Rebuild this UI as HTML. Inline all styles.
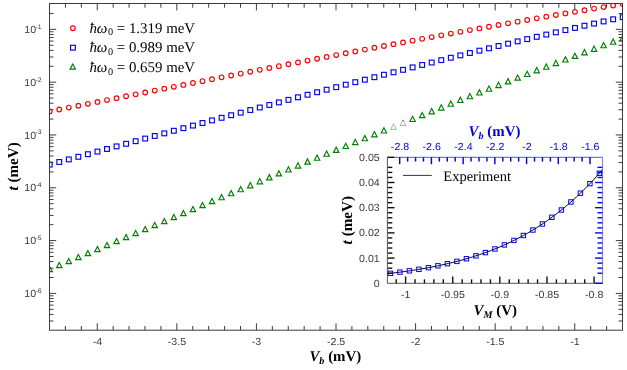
<!DOCTYPE html>
<html><head><meta charset="utf-8"><title>plot</title>
<style>
html,body{margin:0;padding:0;background:#fff;}
body{width:627px;height:370px;position:relative;overflow:hidden;font-family:"Liberation Sans",sans-serif;}
svg{position:absolute;left:0;top:0;}
#txt{will-change:transform;text-rendering:geometricPrecision;}
</style></head><body>
<svg width="627" height="370" viewBox="0 0 627 370" style="position:absolute;left:0;top:0">
<defs><clipPath id="cm"><rect x="49.50" y="3.50" width="573.00" height="326.70"/></clipPath>
<clipPath id="ci"><rect x="387.7" y="157.3" width="214.9" height="125.9"/></clipPath></defs>
<g clip-path="url(#cm)" fill="none" stroke-width="1.15">
<circle cx="49.70" cy="111.38" r="2.35" stroke="#ff0000"/>
<circle cx="59.25" cy="109.50" r="2.35" stroke="#ff0000"/>
<circle cx="68.80" cy="107.61" r="2.35" stroke="#ff0000"/>
<circle cx="78.35" cy="105.72" r="2.35" stroke="#ff0000"/>
<circle cx="87.90" cy="103.83" r="2.35" stroke="#ff0000"/>
<circle cx="97.45" cy="101.94" r="2.35" stroke="#ff0000"/>
<circle cx="107.00" cy="100.05" r="2.35" stroke="#ff0000"/>
<circle cx="116.55" cy="98.16" r="2.35" stroke="#ff0000"/>
<circle cx="126.10" cy="96.26" r="2.35" stroke="#ff0000"/>
<circle cx="135.65" cy="94.37" r="2.35" stroke="#ff0000"/>
<circle cx="145.20" cy="92.48" r="2.35" stroke="#ff0000"/>
<circle cx="154.75" cy="90.59" r="2.35" stroke="#ff0000"/>
<circle cx="164.30" cy="88.69" r="2.35" stroke="#ff0000"/>
<circle cx="173.85" cy="86.80" r="2.35" stroke="#ff0000"/>
<circle cx="183.40" cy="84.91" r="2.35" stroke="#ff0000"/>
<circle cx="192.95" cy="83.02" r="2.35" stroke="#ff0000"/>
<circle cx="202.50" cy="81.14" r="2.35" stroke="#ff0000"/>
<circle cx="212.05" cy="79.25" r="2.35" stroke="#ff0000"/>
<circle cx="221.60" cy="77.37" r="2.35" stroke="#ff0000"/>
<circle cx="231.15" cy="75.49" r="2.35" stroke="#ff0000"/>
<circle cx="240.70" cy="73.62" r="2.35" stroke="#ff0000"/>
<circle cx="250.25" cy="71.74" r="2.35" stroke="#ff0000"/>
<circle cx="259.80" cy="69.87" r="2.35" stroke="#ff0000"/>
<circle cx="269.35" cy="68.01" r="2.35" stroke="#ff0000"/>
<circle cx="278.90" cy="66.14" r="2.35" stroke="#ff0000"/>
<circle cx="288.45" cy="64.28" r="2.35" stroke="#ff0000"/>
<circle cx="298.00" cy="62.43" r="2.35" stroke="#ff0000"/>
<circle cx="307.55" cy="60.58" r="2.35" stroke="#ff0000"/>
<circle cx="317.10" cy="58.74" r="2.35" stroke="#ff0000"/>
<circle cx="326.65" cy="56.90" r="2.35" stroke="#ff0000"/>
<circle cx="336.20" cy="55.06" r="2.35" stroke="#ff0000"/>
<circle cx="345.75" cy="53.24" r="2.35" stroke="#ff0000"/>
<circle cx="355.30" cy="51.41" r="2.35" stroke="#ff0000"/>
<circle cx="364.85" cy="49.60" r="2.35" stroke="#ff0000"/>
<circle cx="374.40" cy="47.79" r="2.35" stroke="#ff0000"/>
<circle cx="383.95" cy="45.99" r="2.35" stroke="#ff0000"/>
<circle cx="393.50" cy="44.19" r="2.35" stroke="#ff0000"/>
<circle cx="403.05" cy="42.41" r="2.35" stroke="#ff0000"/>
<circle cx="412.60" cy="40.63" r="2.35" stroke="#ff0000"/>
<circle cx="422.15" cy="38.85" r="2.35" stroke="#ff0000"/>
<circle cx="431.70" cy="37.09" r="2.35" stroke="#ff0000"/>
<circle cx="441.25" cy="35.34" r="2.35" stroke="#ff0000"/>
<circle cx="450.80" cy="33.59" r="2.35" stroke="#ff0000"/>
<circle cx="460.35" cy="31.85" r="2.35" stroke="#ff0000"/>
<circle cx="469.90" cy="30.12" r="2.35" stroke="#ff0000"/>
<circle cx="479.45" cy="28.41" r="2.35" stroke="#ff0000"/>
<circle cx="489.00" cy="26.70" r="2.35" stroke="#ff0000"/>
<circle cx="498.55" cy="25.00" r="2.35" stroke="#ff0000"/>
<circle cx="508.10" cy="23.31" r="2.35" stroke="#ff0000"/>
<circle cx="517.65" cy="21.63" r="2.35" stroke="#ff0000"/>
<circle cx="527.20" cy="19.96" r="2.35" stroke="#ff0000"/>
<circle cx="536.75" cy="18.31" r="2.35" stroke="#ff0000"/>
<circle cx="546.30" cy="16.66" r="2.35" stroke="#ff0000"/>
<circle cx="555.85" cy="15.03" r="2.35" stroke="#ff0000"/>
<circle cx="565.40" cy="13.41" r="2.35" stroke="#ff0000"/>
<circle cx="574.95" cy="11.80" r="2.35" stroke="#ff0000"/>
<circle cx="584.50" cy="10.21" r="2.35" stroke="#ff0000"/>
<circle cx="594.05" cy="8.62" r="2.35" stroke="#ff0000"/>
<circle cx="603.60" cy="7.05" r="2.35" stroke="#ff0000"/>
<circle cx="613.15" cy="5.50" r="2.35" stroke="#ff0000"/>
<circle cx="622.70" cy="3.95" r="2.35" stroke="#ff0000"/>
<rect x="47.30" y="162.19" width="4.80" height="4.80" stroke="#0000ff"/>
<rect x="56.85" y="159.59" width="4.80" height="4.80" stroke="#0000ff"/>
<rect x="66.40" y="157.00" width="4.80" height="4.80" stroke="#0000ff"/>
<rect x="75.95" y="154.40" width="4.80" height="4.80" stroke="#0000ff"/>
<rect x="85.50" y="151.80" width="4.80" height="4.80" stroke="#0000ff"/>
<rect x="95.05" y="149.19" width="4.80" height="4.80" stroke="#0000ff"/>
<rect x="104.60" y="146.59" width="4.80" height="4.80" stroke="#0000ff"/>
<rect x="114.15" y="143.99" width="4.80" height="4.80" stroke="#0000ff"/>
<rect x="123.70" y="141.38" width="4.80" height="4.80" stroke="#0000ff"/>
<rect x="133.25" y="138.78" width="4.80" height="4.80" stroke="#0000ff"/>
<rect x="142.80" y="136.17" width="4.80" height="4.80" stroke="#0000ff"/>
<rect x="152.35" y="133.57" width="4.80" height="4.80" stroke="#0000ff"/>
<rect x="161.90" y="130.97" width="4.80" height="4.80" stroke="#0000ff"/>
<rect x="171.45" y="128.37" width="4.80" height="4.80" stroke="#0000ff"/>
<rect x="181.00" y="125.77" width="4.80" height="4.80" stroke="#0000ff"/>
<rect x="190.55" y="123.18" width="4.80" height="4.80" stroke="#0000ff"/>
<rect x="200.10" y="120.59" width="4.80" height="4.80" stroke="#0000ff"/>
<rect x="209.65" y="118.00" width="4.80" height="4.80" stroke="#0000ff"/>
<rect x="219.20" y="115.41" width="4.80" height="4.80" stroke="#0000ff"/>
<rect x="228.75" y="112.83" width="4.80" height="4.80" stroke="#0000ff"/>
<rect x="238.30" y="110.25" width="4.80" height="4.80" stroke="#0000ff"/>
<rect x="247.85" y="107.68" width="4.80" height="4.80" stroke="#0000ff"/>
<rect x="257.40" y="105.11" width="4.80" height="4.80" stroke="#0000ff"/>
<rect x="266.95" y="102.55" width="4.80" height="4.80" stroke="#0000ff"/>
<rect x="276.50" y="99.99" width="4.80" height="4.80" stroke="#0000ff"/>
<rect x="286.05" y="97.44" width="4.80" height="4.80" stroke="#0000ff"/>
<rect x="295.60" y="94.90" width="4.80" height="4.80" stroke="#0000ff"/>
<rect x="305.15" y="92.36" width="4.80" height="4.80" stroke="#0000ff"/>
<rect x="314.70" y="89.83" width="4.80" height="4.80" stroke="#0000ff"/>
<rect x="324.25" y="87.31" width="4.80" height="4.80" stroke="#0000ff"/>
<rect x="333.80" y="84.79" width="4.80" height="4.80" stroke="#0000ff"/>
<rect x="343.35" y="82.28" width="4.80" height="4.80" stroke="#0000ff"/>
<rect x="352.90" y="79.78" width="4.80" height="4.80" stroke="#0000ff"/>
<rect x="362.45" y="77.29" width="4.80" height="4.80" stroke="#0000ff"/>
<rect x="372.00" y="74.81" width="4.80" height="4.80" stroke="#0000ff"/>
<rect x="381.55" y="72.34" width="4.80" height="4.80" stroke="#0000ff"/>
<rect x="391.10" y="69.88" width="4.80" height="4.80" stroke="#0000ff"/>
<rect x="400.65" y="67.43" width="4.80" height="4.80" stroke="#0000ff"/>
<rect x="410.20" y="64.99" width="4.80" height="4.80" stroke="#0000ff"/>
<rect x="419.75" y="62.56" width="4.80" height="4.80" stroke="#0000ff"/>
<rect x="429.30" y="60.15" width="4.80" height="4.80" stroke="#0000ff"/>
<rect x="438.85" y="57.74" width="4.80" height="4.80" stroke="#0000ff"/>
<rect x="448.40" y="55.35" width="4.80" height="4.80" stroke="#0000ff"/>
<rect x="457.95" y="52.97" width="4.80" height="4.80" stroke="#0000ff"/>
<rect x="467.50" y="50.60" width="4.80" height="4.80" stroke="#0000ff"/>
<rect x="477.05" y="48.25" width="4.80" height="4.80" stroke="#0000ff"/>
<rect x="486.60" y="45.91" width="4.80" height="4.80" stroke="#0000ff"/>
<rect x="496.15" y="43.58" width="4.80" height="4.80" stroke="#0000ff"/>
<rect x="505.70" y="41.27" width="4.80" height="4.80" stroke="#0000ff"/>
<rect x="515.25" y="38.97" width="4.80" height="4.80" stroke="#0000ff"/>
<rect x="524.80" y="36.69" width="4.80" height="4.80" stroke="#0000ff"/>
<rect x="534.35" y="34.43" width="4.80" height="4.80" stroke="#0000ff"/>
<rect x="543.90" y="32.18" width="4.80" height="4.80" stroke="#0000ff"/>
<rect x="553.45" y="29.94" width="4.80" height="4.80" stroke="#0000ff"/>
<rect x="563.00" y="27.72" width="4.80" height="4.80" stroke="#0000ff"/>
<rect x="572.55" y="25.52" width="4.80" height="4.80" stroke="#0000ff"/>
<rect x="582.10" y="23.34" width="4.80" height="4.80" stroke="#0000ff"/>
<rect x="591.65" y="21.18" width="4.80" height="4.80" stroke="#0000ff"/>
<rect x="601.20" y="19.03" width="4.80" height="4.80" stroke="#0000ff"/>
<rect x="610.75" y="16.90" width="4.80" height="4.80" stroke="#0000ff"/>
<rect x="620.30" y="14.79" width="4.80" height="4.80" stroke="#0000ff"/>
<path d="M49.70 266.42L52.40 271.67L47.00 271.67Z" stroke="#008000"/>
<path d="M59.25 262.42L61.95 267.67L56.55 267.67Z" stroke="#008000"/>
<path d="M68.80 258.42L71.50 263.67L66.10 263.67Z" stroke="#008000"/>
<path d="M78.35 254.42L81.05 259.67L75.65 259.67Z" stroke="#008000"/>
<path d="M87.90 250.42L90.60 255.67L85.20 255.67Z" stroke="#008000"/>
<path d="M97.45 246.42L100.15 251.67L94.75 251.67Z" stroke="#008000"/>
<path d="M107.00 242.41L109.70 247.66L104.30 247.66Z" stroke="#008000"/>
<path d="M116.55 238.41L119.25 243.66L113.85 243.66Z" stroke="#008000"/>
<path d="M126.10 234.40L128.80 239.65L123.40 239.65Z" stroke="#008000"/>
<path d="M135.65 230.40L138.35 235.65L132.95 235.65Z" stroke="#008000"/>
<path d="M145.20 226.40L147.90 231.65L142.50 231.65Z" stroke="#008000"/>
<path d="M154.75 222.40L157.45 227.65L152.05 227.65Z" stroke="#008000"/>
<path d="M164.30 218.40L167.00 223.65L161.60 223.65Z" stroke="#008000"/>
<path d="M173.85 214.40L176.55 219.65L171.15 219.65Z" stroke="#008000"/>
<path d="M183.40 210.41L186.10 215.66L180.70 215.66Z" stroke="#008000"/>
<path d="M192.95 206.42L195.65 211.67L190.25 211.67Z" stroke="#008000"/>
<path d="M202.50 202.43L205.20 207.68L199.80 207.68Z" stroke="#008000"/>
<path d="M212.05 198.44L214.75 203.69L209.35 203.69Z" stroke="#008000"/>
<path d="M221.60 194.46L224.30 199.71L218.90 199.71Z" stroke="#008000"/>
<path d="M231.15 190.49L233.85 195.74L228.45 195.74Z" stroke="#008000"/>
<path d="M240.70 186.51L243.40 191.76L238.00 191.76Z" stroke="#008000"/>
<path d="M250.25 182.55L252.95 187.80L247.55 187.80Z" stroke="#008000"/>
<path d="M259.80 178.59L262.50 183.84L257.10 183.84Z" stroke="#008000"/>
<path d="M269.35 174.63L272.05 179.88L266.65 179.88Z" stroke="#008000"/>
<path d="M278.90 170.68L281.60 175.93L276.20 175.93Z" stroke="#008000"/>
<path d="M288.45 166.74L291.15 171.99L285.75 171.99Z" stroke="#008000"/>
<path d="M298.00 162.80L300.70 168.05L295.30 168.05Z" stroke="#008000"/>
<path d="M307.55 158.87L310.25 164.12L304.85 164.12Z" stroke="#008000"/>
<path d="M317.10 154.95L319.80 160.20L314.40 160.20Z" stroke="#008000"/>
<path d="M326.65 151.03L329.35 156.28L323.95 156.28Z" stroke="#008000"/>
<path d="M336.20 147.13L338.90 152.38L333.50 152.38Z" stroke="#008000"/>
<path d="M345.75 143.23L348.45 148.48L343.05 148.48Z" stroke="#008000"/>
<path d="M355.30 139.34L358.00 144.59L352.60 144.59Z" stroke="#008000"/>
<path d="M364.85 135.46L367.55 140.71L362.15 140.71Z" stroke="#008000"/>
<path d="M374.40 131.59L377.10 136.84L371.70 136.84Z" stroke="#008000"/>
<path d="M383.95 127.73L386.65 132.98L381.25 132.98Z" stroke="#008000"/>
<path d="M393.50 123.81L396.35 129.36L390.65 129.36Z" stroke="#2f942f" stroke-width="0.55"/>
<path d="M403.05 119.97L405.90 125.52L400.20 125.52Z" stroke="#2f942f" stroke-width="0.55"/>
<path d="M403.05 119.47L403.80 120.87L402.30 120.87Z" stroke="none" fill="#0a800a"/>
<path d="M412.60 116.21L415.30 121.46L409.90 121.46Z" stroke="#008000"/>
<path d="M422.15 112.40L424.85 117.65L419.45 117.65Z" stroke="#008000"/>
<path d="M431.70 108.59L434.40 113.84L429.00 113.84Z" stroke="#008000"/>
<path d="M441.25 104.80L443.95 110.05L438.55 110.05Z" stroke="#008000"/>
<path d="M450.80 101.02L453.50 106.27L448.10 106.27Z" stroke="#008000"/>
<path d="M460.35 97.25L463.05 102.50L457.65 102.50Z" stroke="#008000"/>
<path d="M469.90 93.50L472.60 98.75L467.20 98.75Z" stroke="#008000"/>
<path d="M479.45 89.75L482.15 95.00L476.75 95.00Z" stroke="#008000"/>
<path d="M489.00 86.03L491.70 91.28L486.30 91.28Z" stroke="#008000"/>
<path d="M498.55 82.32L501.25 87.57L495.85 87.57Z" stroke="#008000"/>
<path d="M508.10 78.62L510.80 83.87L505.40 83.87Z" stroke="#008000"/>
<path d="M517.65 74.93L520.35 80.18L514.95 80.18Z" stroke="#008000"/>
<path d="M527.20 71.27L529.90 76.52L524.50 76.52Z" stroke="#008000"/>
<path d="M536.75 67.61L539.45 72.86L534.05 72.86Z" stroke="#008000"/>
<path d="M546.30 63.98L549.00 69.23L543.60 69.23Z" stroke="#008000"/>
<path d="M555.85 60.36L558.55 65.61L553.15 65.61Z" stroke="#008000"/>
<path d="M565.40 56.76L568.10 62.01L562.70 62.01Z" stroke="#008000"/>
<path d="M574.95 53.17L577.65 58.42L572.25 58.42Z" stroke="#008000"/>
<path d="M584.50 49.60L587.20 54.85L581.80 54.85Z" stroke="#008000"/>
<path d="M594.05 46.05L596.75 51.30L591.35 51.30Z" stroke="#008000"/>
<path d="M603.60 42.52L606.30 47.77L600.90 47.77Z" stroke="#008000"/>
<path d="M613.15 39.01L615.85 44.26L610.45 44.26Z" stroke="#008000"/>
<path d="M622.70 35.51L625.40 40.76L620.00 40.76Z" stroke="#008000"/>
</g>
<g stroke="#3c3c3c" stroke-width="1" fill="none">
<rect x="49.50" y="3.50" width="573.00" height="326.70"/>
<path d="M49.50 330.20v-4.20M49.50 3.50v4.20"/>
<path d="M65.42 330.20v-4.20M65.42 3.50v4.20"/>
<path d="M81.33 330.20v-4.20M81.33 3.50v4.20"/>
<path d="M97.25 330.20v-6.90M97.25 3.50v6.90"/>
<path d="M113.17 330.20v-4.20M113.17 3.50v4.20"/>
<path d="M129.08 330.20v-4.20M129.08 3.50v4.20"/>
<path d="M145.00 330.20v-4.20M145.00 3.50v4.20"/>
<path d="M160.92 330.20v-4.20M160.92 3.50v4.20"/>
<path d="M176.83 330.20v-6.90M176.83 3.50v6.90"/>
<path d="M192.75 330.20v-4.20M192.75 3.50v4.20"/>
<path d="M208.67 330.20v-4.20M208.67 3.50v4.20"/>
<path d="M224.58 330.20v-4.20M224.58 3.50v4.20"/>
<path d="M240.50 330.20v-4.20M240.50 3.50v4.20"/>
<path d="M256.42 330.20v-6.90M256.42 3.50v6.90"/>
<path d="M272.33 330.20v-4.20M272.33 3.50v4.20"/>
<path d="M288.25 330.20v-4.20M288.25 3.50v4.20"/>
<path d="M304.17 330.20v-4.20M304.17 3.50v4.20"/>
<path d="M320.08 330.20v-4.20M320.08 3.50v4.20"/>
<path d="M336.00 330.20v-6.90M336.00 3.50v6.90"/>
<path d="M351.92 330.20v-4.20M351.92 3.50v4.20"/>
<path d="M367.83 330.20v-4.20M367.83 3.50v4.20"/>
<path d="M383.75 330.20v-4.20M383.75 3.50v4.20"/>
<path d="M399.67 330.20v-4.20M399.67 3.50v4.20"/>
<path d="M415.58 330.20v-6.90M415.58 3.50v6.90"/>
<path d="M431.50 330.20v-4.20M431.50 3.50v4.20"/>
<path d="M447.42 330.20v-4.20M447.42 3.50v4.20"/>
<path d="M463.33 330.20v-4.20M463.33 3.50v4.20"/>
<path d="M479.25 330.20v-4.20M479.25 3.50v4.20"/>
<path d="M495.17 330.20v-6.90M495.17 3.50v6.90"/>
<path d="M511.08 330.20v-4.20M511.08 3.50v4.20"/>
<path d="M527.00 330.20v-4.20M527.00 3.50v4.20"/>
<path d="M542.92 330.20v-4.20M542.92 3.50v4.20"/>
<path d="M558.83 330.20v-4.20M558.83 3.50v4.20"/>
<path d="M574.75 330.20v-6.90M574.75 3.50v6.90"/>
<path d="M590.67 330.20v-4.20M590.67 3.50v4.20"/>
<path d="M606.58 330.20v-4.20M606.58 3.50v4.20"/>
<path d="M622.50 330.20v-4.20M622.50 3.50v4.20"/>
<path d="M49.50 321.01h4.00M622.50 321.01h-4.00"/>
<path d="M49.50 314.42h4.00M622.50 314.42h-4.00"/>
<path d="M49.50 309.30h4.00M622.50 309.30h-4.00"/>
<path d="M49.50 305.12h4.00M622.50 305.12h-4.00"/>
<path d="M49.50 301.58h4.00M622.50 301.58h-4.00"/>
<path d="M49.50 298.52h4.00M622.50 298.52h-4.00"/>
<path d="M49.50 295.82h4.00M622.50 295.82h-4.00"/>
<path d="M49.50 293.40h6.70M622.50 293.40h-6.70"/>
<path d="M49.50 277.50h4.00M622.50 277.50h-4.00"/>
<path d="M49.50 268.20h4.00M622.50 268.20h-4.00"/>
<path d="M49.50 261.61h4.00M622.50 261.61h-4.00"/>
<path d="M49.50 256.49h4.00M622.50 256.49h-4.00"/>
<path d="M49.50 252.31h4.00M622.50 252.31h-4.00"/>
<path d="M49.50 248.77h4.00M622.50 248.77h-4.00"/>
<path d="M49.50 245.71h4.00M622.50 245.71h-4.00"/>
<path d="M49.50 243.01h4.00M622.50 243.01h-4.00"/>
<path d="M49.50 240.59h6.70M622.50 240.59h-6.70"/>
<path d="M49.50 224.69h4.00M622.50 224.69h-4.00"/>
<path d="M49.50 215.39h4.00M622.50 215.39h-4.00"/>
<path d="M49.50 208.80h4.00M622.50 208.80h-4.00"/>
<path d="M49.50 203.68h4.00M622.50 203.68h-4.00"/>
<path d="M49.50 199.50h4.00M622.50 199.50h-4.00"/>
<path d="M49.50 195.96h4.00M622.50 195.96h-4.00"/>
<path d="M49.50 192.90h4.00M622.50 192.90h-4.00"/>
<path d="M49.50 190.20h4.00M622.50 190.20h-4.00"/>
<path d="M49.50 187.78h6.70M622.50 187.78h-6.70"/>
<path d="M49.50 171.88h4.00M622.50 171.88h-4.00"/>
<path d="M49.50 162.58h4.00M622.50 162.58h-4.00"/>
<path d="M49.50 155.99h4.00M622.50 155.99h-4.00"/>
<path d="M49.50 150.87h4.00M622.50 150.87h-4.00"/>
<path d="M49.50 146.69h4.00M622.50 146.69h-4.00"/>
<path d="M49.50 143.15h4.00M622.50 143.15h-4.00"/>
<path d="M49.50 140.09h4.00M622.50 140.09h-4.00"/>
<path d="M49.50 137.39h4.00M622.50 137.39h-4.00"/>
<path d="M49.50 134.97h6.70M622.50 134.97h-6.70"/>
<path d="M49.50 119.07h4.00M622.50 119.07h-4.00"/>
<path d="M49.50 109.77h4.00M622.50 109.77h-4.00"/>
<path d="M49.50 103.18h4.00M622.50 103.18h-4.00"/>
<path d="M49.50 98.06h4.00M622.50 98.06h-4.00"/>
<path d="M49.50 93.88h4.00M622.50 93.88h-4.00"/>
<path d="M49.50 90.34h4.00M622.50 90.34h-4.00"/>
<path d="M49.50 87.28h4.00M622.50 87.28h-4.00"/>
<path d="M49.50 84.58h4.00M622.50 84.58h-4.00"/>
<path d="M49.50 82.16h6.70M622.50 82.16h-6.70"/>
<path d="M49.50 66.26h4.00M622.50 66.26h-4.00"/>
<path d="M49.50 56.96h4.00M622.50 56.96h-4.00"/>
<path d="M49.50 50.37h4.00M622.50 50.37h-4.00"/>
<path d="M49.50 45.25h4.00M622.50 45.25h-4.00"/>
<path d="M49.50 41.07h4.00M622.50 41.07h-4.00"/>
<path d="M49.50 37.53h4.00M622.50 37.53h-4.00"/>
<path d="M49.50 34.47h4.00M622.50 34.47h-4.00"/>
<path d="M49.50 31.77h4.00M622.50 31.77h-4.00"/>
<path d="M49.50 29.35h6.70M622.50 29.35h-6.70"/>
<path d="M49.50 13.45h4.00M622.50 13.45h-4.00"/>
</g>
<rect x="352" y="150" width="256" height="164" fill="#fff" opacity="0"/>
<g clip-path="url(#ci)" fill="none">
<path d="M386.60 273.75L388.81 273.50L391.01 273.25L393.22 272.99L395.43 272.71L397.64 272.44L399.84 272.15L402.05 271.86L404.26 271.56L406.46 271.25L408.67 270.93L410.88 270.60L413.08 270.27L415.29 269.92L417.50 269.57L419.71 269.20L421.91 268.83L424.12 268.45L426.33 268.05L428.53 267.65L430.74 267.23L432.95 266.81L435.16 266.37L437.36 265.92L439.57 265.46L441.78 264.98L443.98 264.49L446.19 264.00L448.40 263.48L450.61 262.96L452.81 262.42L455.02 261.86L457.23 261.29L459.43 260.71L461.64 260.11L463.85 259.49L466.05 258.86L468.26 258.21L470.47 257.55L472.68 256.87L474.88 256.17L477.09 255.45L479.30 254.72L481.50 253.96L483.71 253.19L485.92 252.40L488.13 251.58L490.33 250.75L492.54 249.90L494.75 249.02L496.95 248.12L499.16 247.20L501.37 246.26L503.57 245.29L505.78 244.30L507.99 243.29L510.20 242.25L512.40 241.19L514.61 240.10L516.82 238.98L519.02 237.84L521.23 236.67L523.44 235.47L525.65 234.25L527.85 232.99L530.06 231.71L532.27 230.39L534.47 229.05L536.68 227.67L538.89 226.27L541.09 224.83L543.30 223.36L545.51 221.85L547.72 220.31L549.92 218.74L552.13 217.13L554.34 215.49L556.54 213.81L558.75 212.09L560.96 210.34L563.17 208.55L565.37 206.72L567.58 204.85L569.79 202.94L571.99 200.99L574.20 199.00L576.41 196.97L578.62 194.90L580.82 192.79L583.03 190.63L585.24 188.44L587.44 186.19L589.65 183.91L591.86 181.57L594.06 179.20L596.27 176.78L598.48 174.31L600.69 171.79L602.89 169.23L605.10 166.63" stroke="#000" stroke-width="1"/>
</g>
<g fill="none" stroke="#0000ff" stroke-width="1.0">
<rect x="388.20" y="271.12" width="4.40" height="4.40"/>
<rect x="397.70" y="269.94" width="4.40" height="4.40"/>
<rect x="407.20" y="268.62" width="4.40" height="4.40"/>
<rect x="416.70" y="267.14" width="4.40" height="4.40"/>
<rect x="426.20" y="265.47" width="4.40" height="4.40"/>
<rect x="435.70" y="263.61" width="4.40" height="4.40"/>
<rect x="445.20" y="261.52" width="4.40" height="4.40"/>
<rect x="454.70" y="259.18" width="4.40" height="4.40"/>
<rect x="464.20" y="256.56" width="4.40" height="4.40"/>
<rect x="473.70" y="253.64" width="4.40" height="4.40"/>
<rect x="483.20" y="250.38" width="4.40" height="4.40"/>
<rect x="492.70" y="246.76" width="4.40" height="4.40"/>
<rect x="502.20" y="242.73" width="4.40" height="4.40"/>
<rect x="511.70" y="238.25" width="4.40" height="4.40"/>
<rect x="521.20" y="233.29" width="4.40" height="4.40"/>
<rect x="530.70" y="227.81" width="4.40" height="4.40"/>
<rect x="540.20" y="221.76" width="4.40" height="4.40"/>
<rect x="549.70" y="215.10" width="4.40" height="4.40"/>
<rect x="559.20" y="207.78" width="4.40" height="4.40"/>
<rect x="568.70" y="199.76" width="4.40" height="4.40"/>
<rect x="578.20" y="191.00" width="4.40" height="4.40"/>
<rect x="587.70" y="181.44" width="4.40" height="4.40"/>
<rect x="597.20" y="171.07" width="4.40" height="4.40"/>
</g>
<path d="M387.40 156.60V283.30H594.10" stroke="#3a3a3a" stroke-width="0.85" fill="none"/>
<path d="M594.10 283.30H602.90" stroke="#2020e8" stroke-width="0.9" fill="none"/>
<g stroke="#101010" stroke-width="1.4" fill="none">
<path d="M387.70 273.22h4.60"/>
<path d="M387.70 268.18h4.60"/>
<path d="M387.70 263.14h4.60"/>
<path d="M387.70 258.10h6.80"/>
<path d="M387.70 253.06h4.60"/>
<path d="M387.70 248.02h4.60"/>
<path d="M387.70 242.98h4.60"/>
<path d="M387.70 237.94h4.60"/>
<path d="M387.70 232.90h6.80"/>
<path d="M387.70 227.86h4.60"/>
<path d="M387.70 222.82h4.60"/>
<path d="M387.70 217.78h4.60"/>
<path d="M387.70 212.74h4.60"/>
<path d="M387.70 207.70h6.80"/>
<path d="M387.70 202.66h4.60"/>
<path d="M387.70 197.62h4.60"/>
<path d="M387.70 192.58h4.60"/>
<path d="M387.70 187.54h4.60"/>
<path d="M387.70 182.50h6.80"/>
<path d="M387.70 177.46h4.60"/>
<path d="M387.70 172.42h4.60"/>
<path d="M387.70 167.38h4.60"/>
<path d="M387.70 157.30h6.80"/>
<path d="M396.18 283.30v-4.00"/>
<path d="M405.60 283.30v-6.80"/>
<path d="M415.03 283.30v-4.00"/>
<path d="M424.45 283.30v-4.00"/>
<path d="M433.88 283.30v-4.00"/>
<path d="M443.30 283.30v-4.00"/>
<path d="M452.73 283.30v-6.80"/>
<path d="M462.15 283.30v-4.00"/>
<path d="M471.57 283.30v-4.00"/>
<path d="M481.00 283.30v-4.00"/>
<path d="M490.43 283.30v-4.00"/>
<path d="M499.85 283.30v-6.80"/>
<path d="M509.27 283.30v-4.00"/>
<path d="M518.70 283.30v-4.00"/>
<path d="M528.12 283.30v-4.00"/>
<path d="M537.55 283.30v-4.00"/>
<path d="M546.98 283.30v-6.80"/>
<path d="M556.40 283.30v-4.00"/>
<path d="M565.83 283.30v-4.00"/>
<path d="M575.25 283.30v-4.00"/>
<path d="M584.67 283.30v-4.00"/>
<path d="M594.10 283.30v-6.80"/>
</g>
<g stroke="#0000e6" stroke-width="1.25" fill="none">
<path d="M394.70 157.30H602.50" stroke="#2828e8" stroke-width="0.8"/>
<path d="M399.70 157.30v6.90" stroke-width="1.45"/>
<path d="M407.63 157.30v4.30" stroke-width="1.45"/>
<path d="M415.56 157.30v4.30" stroke-width="1.45"/>
<path d="M423.49 157.30v4.30" stroke-width="1.45"/>
<path d="M431.42 157.30v6.90" stroke-width="1.45"/>
<path d="M439.35 157.30v4.30" stroke-width="1.45"/>
<path d="M447.28 157.30v4.30" stroke-width="1.45"/>
<path d="M455.21 157.30v4.30" stroke-width="1.45"/>
<path d="M463.14 157.30v6.90" stroke-width="1.45"/>
<path d="M471.07 157.30v4.30" stroke-width="1.45"/>
<path d="M479.00 157.30v4.30" stroke-width="1.45"/>
<path d="M486.93 157.30v4.30" stroke-width="1.45"/>
<path d="M494.86 157.30v6.90" stroke-width="1.45"/>
<path d="M502.79 157.30v4.30" stroke-width="1.45"/>
<path d="M510.72 157.30v4.30" stroke-width="1.45"/>
<path d="M518.65 157.30v4.30" stroke-width="1.45"/>
<path d="M526.58 157.30v6.90" stroke-width="1.45"/>
<path d="M534.51 157.30v4.30" stroke-width="1.45"/>
<path d="M542.44 157.30v4.30" stroke-width="1.45"/>
<path d="M550.37 157.30v4.30" stroke-width="1.45"/>
<path d="M558.30 157.30v6.90" stroke-width="1.45"/>
<path d="M566.23 157.30v4.30" stroke-width="1.45"/>
<path d="M574.16 157.30v4.30" stroke-width="1.45"/>
<path d="M582.09 157.30v4.30" stroke-width="1.45"/>
<path d="M590.02 157.30v6.90" stroke-width="1.45"/>
<path d="M602.50 283.30h-7.40" stroke-width="1.4"/>
<path d="M602.50 273.22h-5.00" stroke-width="1.4"/>
<path d="M602.50 268.18h-5.00" stroke-width="1.4"/>
<path d="M602.50 263.14h-5.00" stroke-width="1.4"/>
<path d="M602.50 258.10h-7.40" stroke-width="1.4"/>
<path d="M602.50 253.06h-5.00" stroke-width="1.4"/>
<path d="M602.50 248.02h-5.00" stroke-width="1.4"/>
<path d="M602.50 242.98h-5.00" stroke-width="1.4"/>
<path d="M602.50 237.94h-5.00" stroke-width="1.4"/>
<path d="M602.50 232.90h-7.40" stroke-width="1.4"/>
<path d="M602.50 227.86h-5.00" stroke-width="1.4"/>
<path d="M602.50 222.82h-5.00" stroke-width="1.4"/>
<path d="M602.50 217.78h-5.00" stroke-width="1.4"/>
<path d="M602.50 212.74h-5.00" stroke-width="1.4"/>
<path d="M602.50 207.70h-7.40" stroke-width="1.4"/>
<path d="M602.50 202.66h-5.00" stroke-width="1.4"/>
<path d="M602.50 197.62h-5.00" stroke-width="1.4"/>
<path d="M602.50 192.58h-5.00" stroke-width="1.4"/>
<path d="M602.50 187.54h-5.00" stroke-width="1.4"/>
<path d="M602.50 182.50h-7.40" stroke-width="1.4"/>
<path d="M602.50 177.46h-5.00" stroke-width="1.4"/>
<path d="M602.50 172.42h-5.00" stroke-width="1.4"/>
<path d="M602.50 167.38h-5.00" stroke-width="1.4"/>
</g>
<path d="M602.6 157.3V283.3" stroke="#4040e8" stroke-width="0.7" fill="none"/>
<path d="M403 175.4H431.8" stroke="#000" stroke-width="0.8"/>
</svg>
<svg id="txt" width="627" height="370" viewBox="0 0 627 370">
<g font-family="Liberation Sans, sans-serif" font-size="10.3" fill="#383838">
<text transform="translate(97.35 345.00) matrix(1.03 0.0004 0 1 0 0)" text-anchor="middle">-4</text>
<text transform="translate(176.93 345.00) matrix(1.03 0.0004 0 1 0 0)" text-anchor="middle">-3.5</text>
<text transform="translate(256.52 345.00) matrix(1.03 0.0004 0 1 0 0)" text-anchor="middle">-3</text>
<text transform="translate(336.10 345.00) matrix(1.03 0.0004 0 1 0 0)" text-anchor="middle">-2.5</text>
<text transform="translate(415.68 345.00) matrix(1.03 0.0004 0 1 0 0)" text-anchor="middle">-2</text>
<text transform="translate(495.27 345.00) matrix(1.03 0.0004 0 1 0 0)" text-anchor="middle">-1.5</text>
<text transform="translate(574.85 345.00) matrix(1.03 0.0004 0 1 0 0)" text-anchor="middle">-1</text>
<text transform="translate(41.70 297.00) matrix(1.03 0.0004 0 1 0 0)" text-anchor="end">10<tspan font-size="6.7" dy="-4.1" dx="-0.5">-6</tspan></text>
<text transform="translate(41.70 244.19) matrix(1.03 0.0004 0 1 0 0)" text-anchor="end">10<tspan font-size="6.7" dy="-4.1" dx="-0.5">-5</tspan></text>
<text transform="translate(41.70 191.38) matrix(1.03 0.0004 0 1 0 0)" text-anchor="end">10<tspan font-size="6.7" dy="-4.1" dx="-0.5">-4</tspan></text>
<text transform="translate(41.70 138.57) matrix(1.03 0.0004 0 1 0 0)" text-anchor="end">10<tspan font-size="6.7" dy="-4.1" dx="-0.5">-3</tspan></text>
<text transform="translate(41.70 85.76) matrix(1.03 0.0004 0 1 0 0)" text-anchor="end">10<tspan font-size="6.7" dy="-4.1" dx="-0.5">-2</tspan></text>
<text transform="translate(41.70 32.95) matrix(1.03 0.0004 0 1 0 0)" text-anchor="end">10<tspan font-size="6.7" dy="-4.1" dx="-0.5">-1</tspan></text>
<text transform="translate(379.70 286.85) matrix(1.03 0.0004 0 1 0 0)" text-anchor="end">0</text>
<text transform="translate(379.70 261.65) matrix(1.03 0.0004 0 1 0 0)" text-anchor="end">0.01</text>
<text transform="translate(379.70 236.45) matrix(1.03 0.0004 0 1 0 0)" text-anchor="end">0.02</text>
<text transform="translate(379.70 211.25) matrix(1.03 0.0004 0 1 0 0)" text-anchor="end">0.03</text>
<text transform="translate(379.70 186.05) matrix(1.03 0.0004 0 1 0 0)" text-anchor="end">0.04</text>
<text transform="translate(379.70 160.85) matrix(1.03 0.0004 0 1 0 0)" text-anchor="end">0.05</text>
<text transform="translate(405.70 298.00) matrix(1.03 0.0004 0 1 0 0)" text-anchor="middle">-1</text>
<text transform="translate(452.83 298.00) matrix(1.03 0.0004 0 1 0 0)" text-anchor="middle">-0.95</text>
<text transform="translate(499.95 298.00) matrix(1.03 0.0004 0 1 0 0)" text-anchor="middle">-0.9</text>
<text transform="translate(547.08 298.00) matrix(1.03 0.0004 0 1 0 0)" text-anchor="middle">-0.85</text>
<text transform="translate(594.20 298.00) matrix(1.03 0.0004 0 1 0 0)" text-anchor="middle">-0.8</text>
<text transform="translate(400.00 150.00) matrix(1.03 0.0004 0 1 0 0)" text-anchor="middle" fill="#0000e6">-2.8</text>
<text transform="translate(431.72 150.00) matrix(1.03 0.0004 0 1 0 0)" text-anchor="middle" fill="#0000e6">-2.6</text>
<text transform="translate(463.44 150.00) matrix(1.03 0.0004 0 1 0 0)" text-anchor="middle" fill="#0000e6">-2.4</text>
<text transform="translate(495.16 150.00) matrix(1.03 0.0004 0 1 0 0)" text-anchor="middle" fill="#0000e6">-2.2</text>
<text transform="translate(526.88 150.00) matrix(1.03 0.0004 0 1 0 0)" text-anchor="middle" fill="#0000e6">-2</text>
<text transform="translate(558.60 150.00) matrix(1.03 0.0004 0 1 0 0)" text-anchor="middle" fill="#0000e6">-1.8</text>
<text transform="translate(590.32 150.00) matrix(1.03 0.0004 0 1 0 0)" text-anchor="middle" fill="#0000e6">-1.6</text>
</g>
<text transform="translate(309.40 360.60) matrix(1 0.0004 0 1 0 0)" font-family="Liberation Serif, serif" font-weight="bold" font-size="14.9" fill="#000"><tspan font-style="italic">V</tspan><tspan font-style="italic" font-size="10.2" dy="2.9">b</tspan><tspan dy="-2.9"> (mV)</tspan></text>
<text transform="translate(468.60 136.00) matrix(1 0.0004 0 1 0 0)" font-family="Liberation Serif, serif" font-weight="bold" font-size="14.9" fill="#0000e6"><tspan font-style="italic">V</tspan><tspan font-style="italic" font-size="10.2" dy="2.9">b</tspan><tspan dy="-2.9"> (mV)</tspan></text>
<text transform="translate(473.60 314.60) matrix(1 0.0004 0 1 0 0)" font-family="Liberation Serif, serif" font-weight="bold" font-size="14.9" fill="#000"><tspan font-style="italic">V</tspan><tspan font-style="italic" font-size="10.2" dy="2.9">M</tspan><tspan dy="-2.9"> (V)</tspan></text>
<text transform="translate(17.90 190.50) rotate(-90)" font-family="Liberation Serif, serif" font-weight="bold" font-size="15.1" fill="#000"><tspan font-style="italic">t</tspan> (meV)</text>
<text transform="translate(352.25 244.40) rotate(-90)" font-family="Liberation Serif, serif" font-weight="bold" font-size="15.2" fill="#000"><tspan font-style="italic">t</tspan> (meV)</text>
<text transform="translate(89.40 32.50) matrix(1 0.0004 0 1 0 0)" font-family="Liberation Serif, serif" font-size="14.9" fill="#000"><tspan font-style="italic">ħω</tspan><tspan font-size="10.2" dy="2.9" dx="0.6">0</tspan><tspan dy="-2.9"> = 1.319 meV</tspan></text>
<text transform="translate(89.40 52.10) matrix(1 0.0004 0 1 0 0)" font-family="Liberation Serif, serif" font-size="14.9" fill="#000"><tspan font-style="italic">ħω</tspan><tspan font-size="10.2" dy="2.9" dx="0.6">0</tspan><tspan dy="-2.9"> = 0.989 meV</tspan></text>
<text transform="translate(89.40 71.70) matrix(1 0.0004 0 1 0 0)" font-family="Liberation Serif, serif" font-size="14.9" fill="#000"><tspan font-style="italic">ħω</tspan><tspan font-size="10.2" dy="2.9" dx="0.6">0</tspan><tspan dy="-2.9"> = 0.659 meV</tspan></text>
<text transform="translate(443.3 180.8) matrix(1 0.0004 0 1 0 0)" font-family="Liberation Serif, serif" font-size="14.5" fill="#000">Experiment</text>
<g fill="none" stroke-width="1.15">
<circle cx="72.9" cy="28.3" r="2.35" stroke="#ff0000"/>
<rect x="70.55" y="45.3" width="4.8" height="4.8" stroke="#0000ff"/>
<path d="M72.75 63.9L75.45 69.15L70.05 69.15Z" stroke="#008000"/>
</g>
</svg>
</body></html>
